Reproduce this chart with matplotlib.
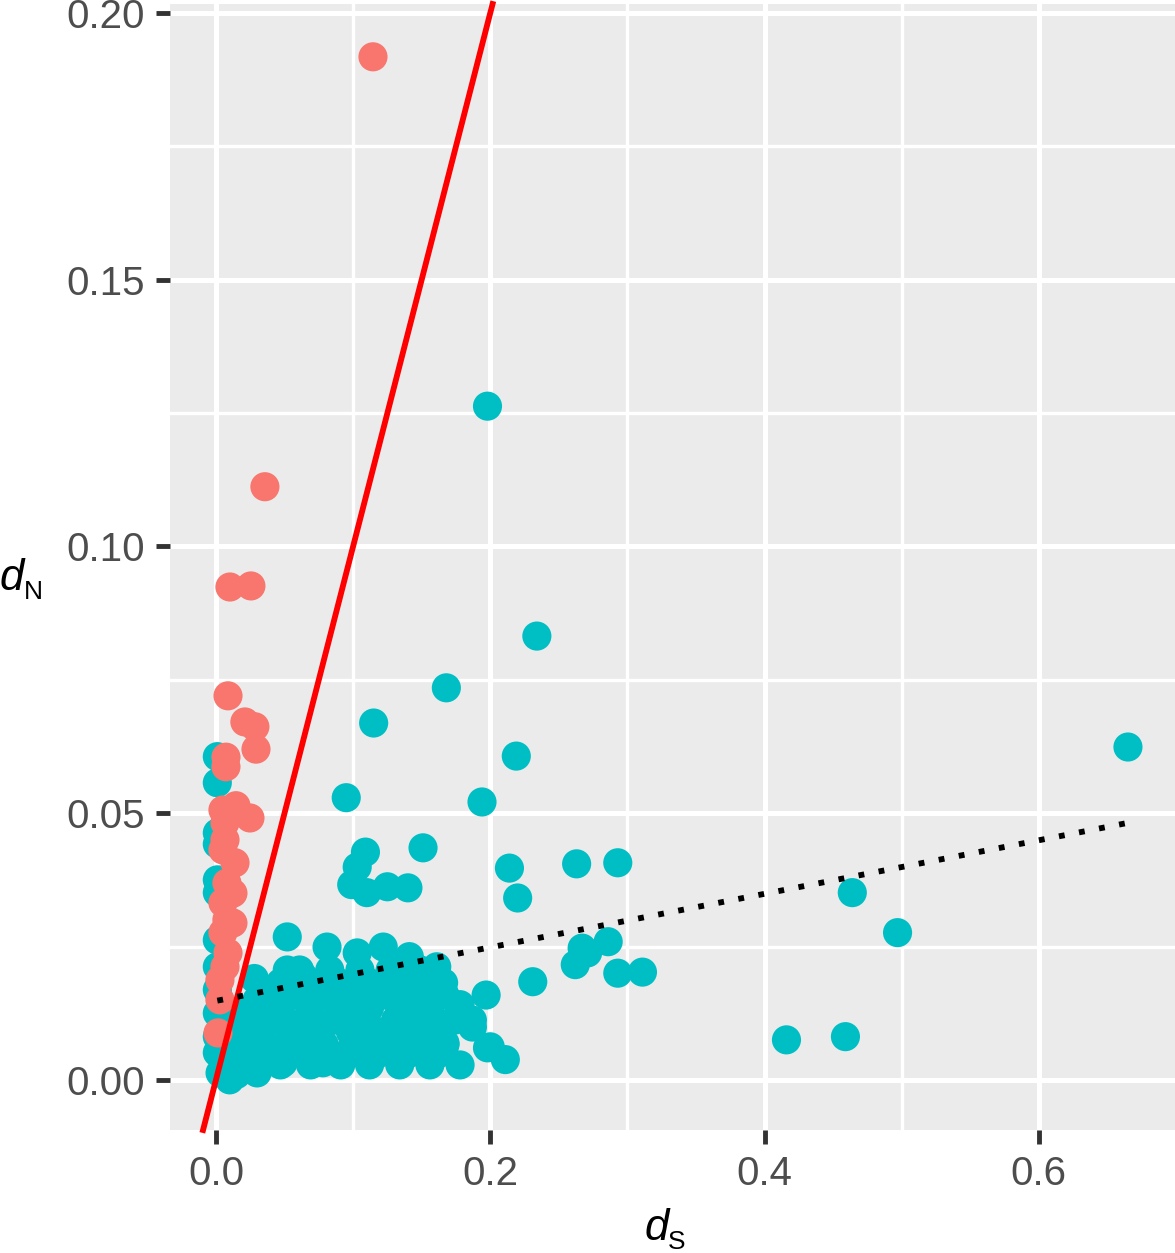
import numpy as np
import matplotlib
matplotlib.use("Agg")
import matplotlib.pyplot as plt

# cyan group (dS, dN)
cyan_ds = [0.001, 0.001, 0.001, 0.001, 0.001, 0.001, 0.001, 0.001, 0.001, 0.001,
           0.001, 0.001, 0.003,
           0.198, 0.234, 0.168, 0.115, 0.219, 0.665, 0.095, 0.194, 0.151, 0.109,
           0.103, 0.099, 0.110, 0.125, 0.140, 0.214, 0.263, 0.293, 0.220, 0.464,
           0.497, 0.416, 0.459, 0.267, 0.286, 0.271, 0.262, 0.293, 0.311, 0.231,
           0.197, 0.211, 0.198, 0.187, 0.167, 0.178, 0.166, 0.161, 0.141, 0.151,
           0.149, 0.134,
           0.052, 0.081, 0.103, 0.122, 0.200, 0.155, 0.123, 0.098, 0.078, 0.049,
           0.030, 0.010, 0.064, 0.052, 0.030, 0.015, 0.093, 0.107, 0.136, 0.146,
           0.187, 0.112, 0.068, 0.040, 0.068, 0.020, 0.040,
           # dense block near the origin
           0.025, 0.047, 0.069, 0.091, 0.112, 0.134, 0.156, 0.178,
           0.030, 0.052, 0.074, 0.096, 0.117, 0.139, 0.161,
           0.018, 0.036, 0.058, 0.079, 0.101, 0.123, 0.145, 0.167,
           0.032, 0.054, 0.076, 0.098, 0.120, 0.142, 0.163,
           0.021, 0.043, 0.065, 0.087, 0.109, 0.131, 0.152, 0.174,
           0.025, 0.047, 0.069, 0.090, 0.112, 0.134, 0.156,
           0.036, 0.058, 0.079, 0.101, 0.123, 0.145, 0.167,
           0.047, 0.069, 0.090, 0.112, 0.134, 0.156,
           0.061, 0.083, 0.105, 0.127, 0.149,
           0.012, 0.010, 0.028, 0.015]
cyan_dn = [0.0606, 0.0557, 0.0463, 0.0442, 0.0375, 0.0351, 0.0262, 0.0212, 0.0169, 0.0125,
           0.0081, 0.0051, 0.0013,
           0.1263, 0.0832, 0.0735, 0.0669, 0.0607, 0.0624, 0.0529, 0.0521, 0.0435, 0.0427,
           0.0399, 0.0366, 0.0351, 0.0362, 0.0360, 0.0397, 0.0405, 0.0407, 0.0341, 0.0351,
           0.0276, 0.0075, 0.0081, 0.0247, 0.0259, 0.0238, 0.0216, 0.0200, 0.0202, 0.0184,
           0.0159, 0.0038, 0.0060, 0.0099, 0.0069, 0.0141, 0.0182, 0.0212, 0.0231, 0.0156,
           0.0099, 0.0088,
           0.0268, 0.0249, 0.0238, 0.0249, 0.0062, 0.0075, 0.0056, 0.0056, 0.0032, 0.0032,
           0.0013, 0.0000, 0.0193, 0.0206, 0.0150, 0.0099, 0.0163, 0.0126, 0.0163, 0.0112,
           0.0112, 0.0088, 0.0088, 0.0112, 0.0150, 0.0051, 0.0051,
           0.0028, 0.0028, 0.0028, 0.0028, 0.0028, 0.0028, 0.0028, 0.0028,
           0.0047, 0.0047, 0.0047, 0.0047, 0.0047, 0.0047, 0.0047,
           0.0066, 0.0066, 0.0066, 0.0066, 0.0066, 0.0066, 0.0066, 0.0066,
           0.0090, 0.0090, 0.0090, 0.0090, 0.0090, 0.0090, 0.0090,
           0.0112, 0.0112, 0.0112, 0.0112, 0.0112, 0.0112, 0.0112, 0.0112,
           0.0135, 0.0135, 0.0135, 0.0135, 0.0135, 0.0135, 0.0135,
           0.0159, 0.0159, 0.0159, 0.0159, 0.0159, 0.0159, 0.0159,
           0.0182, 0.0182, 0.0182, 0.0182, 0.0182, 0.0182,
           0.0206, 0.0206, 0.0206, 0.0206, 0.0206,
           0.0090, 0.0040, 0.0190, 0.0010]

# red group (dS, dN)
red_ds = [0.1145, 0.0357, 0.0102, 0.0255, 0.0088, 0.0211, 0.0284, 0.0292, 0.0073, 0.0073,
          0.0146, 0.0248, 0.0051, 0.0066, 0.0066, 0.0051, 0.0139, 0.0080, 0.0124, 0.0051,
          0.0080, 0.0124, 0.0051, 0.0088, 0.0066, 0.0029, 0.0029, 0.0015]
red_dn = [0.1918, 0.1112, 0.0924, 0.0926, 0.0720, 0.0671, 0.0662, 0.0620, 0.0605, 0.0587,
          0.0514, 0.0491, 0.0506, 0.0482, 0.0450, 0.0431, 0.0407, 0.0369, 0.0350, 0.0332,
          0.0300, 0.0294, 0.0276, 0.0238, 0.0212, 0.0187, 0.0150, 0.0088]

# linear fit of the cyan group
fit_intercept = 0.0148
fit_slope = 0.0502

x_ticks = [0.0, 0.2, 0.4, 0.6]
x_tick_labels = ["0.0", "0.2", "0.4", "0.6"]
y_ticks = [0.00, 0.05, 0.10, 0.15, 0.20]
y_tick_labels = ["0.00", "0.05", "0.10", "0.15", "0.20"]

plt.rcParams['font.family'] = ['Liberation Sans', 'DejaVu Sans']

W, H = 1175, 1253
fig = plt.figure(figsize=(W / 100, H / 100), dpi=100)
ax = fig.add_axes([170 / W, 1 - 1130 / H, 1 - 170 / W, (1130 - 4) / H])
ax.set_facecolor('#EBEBEB')

ax.set_xlim(-0.0335, 0.6993)
ax.set_ylim(-0.0094, 0.2017)

# grid, ggplot style
for v in [0.1, 0.3, 0.5]:
    ax.axvline(v, color='white', lw=2.4, zorder=0.5)
for v in [0.025, 0.075, 0.125, 0.175]:
    ax.axhline(v, color='white', lw=2.4, zorder=0.5)
for v in x_ticks:
    ax.axvline(v, color='white', lw=3.6, zorder=0.6)
for v in y_ticks:
    ax.axhline(v, color='white', lw=3.6, zorder=0.6)

ax.scatter(cyan_ds, cyan_dn, s=440, color='#00BFC4', edgecolors='none', zorder=2)
ax.scatter(red_ds, red_dn, s=440, color='#F8766D', edgecolors='none', zorder=3)

# dN = dS reference line
ax.axline((0, 0), slope=1, color='#FF0000', lw=4.2, zorder=4, clip_on=False)

xs = np.array([min(cyan_ds), max(cyan_ds)])
ax.plot(xs, fit_intercept + fit_slope * xs, color='black', lw=4.2,
        dashes=(1, 2.5), zorder=5)

for s in ax.spines.values():
    s.set_visible(False)

ax.set_xticks(x_ticks)
ax.set_xticklabels(x_tick_labels)
ax.set_yticks(y_ticks)
ax.set_yticklabels(y_tick_labels)
ax.tick_params(axis='both', length=10, width=3.5, color='#333333',
               labelsize=29, labelcolor='#4D4D4D', pad=8)

# axis titles: italic d with a small roman subscript
fig.text(0 / W, 1 - 590 / H, 'd', fontsize=31.5, style='italic', va='baseline', ha='left')
fig.text(24 / W, 1 - 599 / H, 'N', fontsize=19, va='baseline', ha='left')
fig.text(645 / W, 1 - 1240 / H, 'd', fontsize=31.5, style='italic', va='baseline', ha='left')
fig.text(668 / W, 1 - 1249 / H, 'S', fontsize=19, va='baseline', ha='left')

fig.savefig('out.png', dpi=100)
